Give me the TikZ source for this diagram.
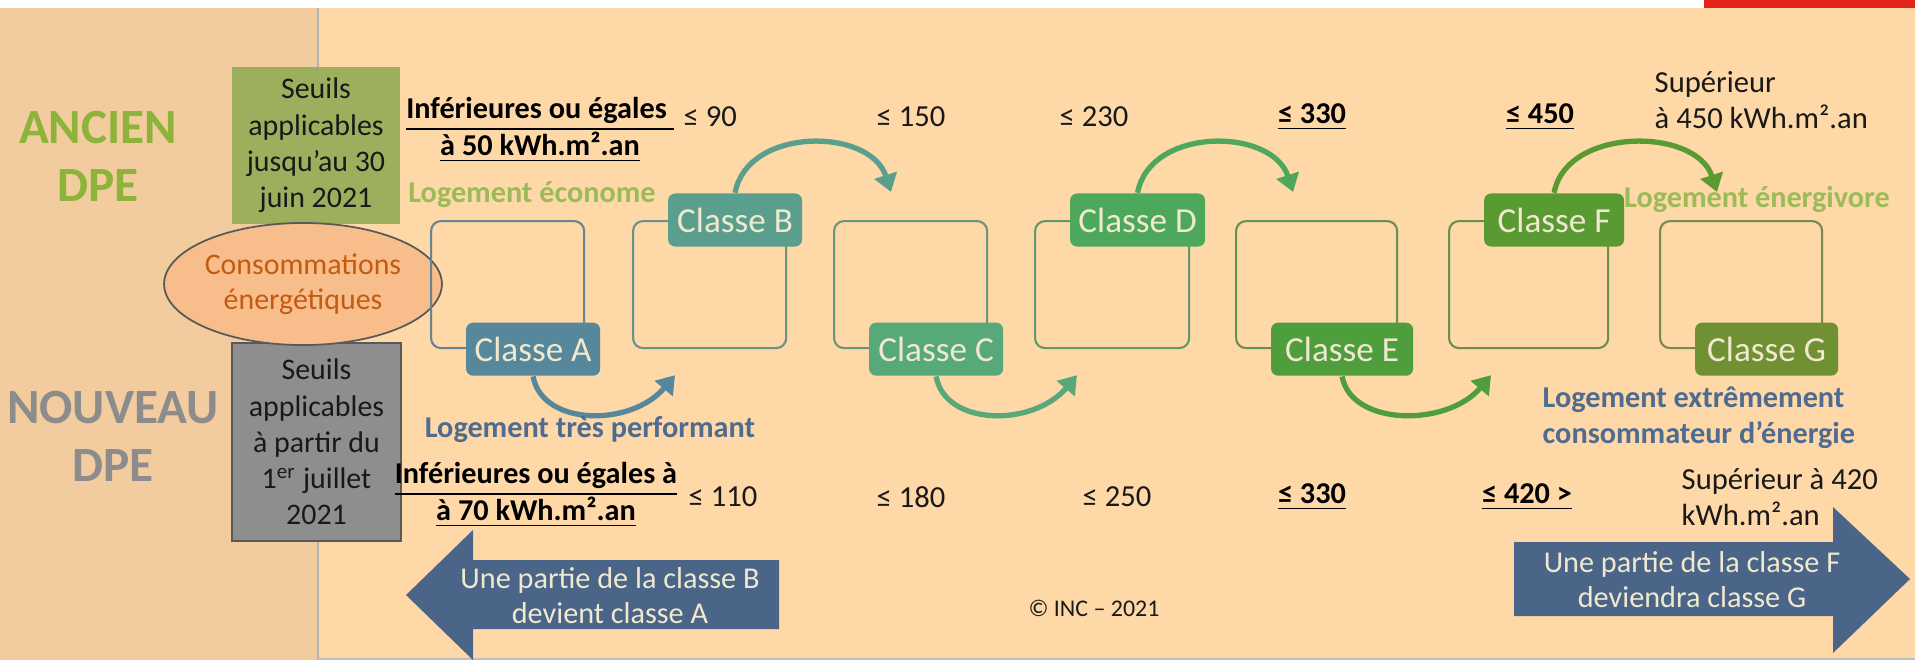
\documentclass[tikz,border=0pt]{standalone}
\usepackage{fontspec}
\setmainfont{Carlito}
\usetikzlibrary{calc,arrows.meta,shapes.geometric}

\definecolor{fond}{HTML}{FED8A7}
\definecolor{fondgauche}{HTML}{F2CC9E}
\definecolor{rouge}{HTML}{E3241A}
\definecolor{vertdpe}{HTML}{8DB33A}
\definecolor{grisdpe}{HTML}{8C8C8C}
\definecolor{vertseuil}{HTML}{9BAF5C}
\definecolor{grisseuil}{HTML}{8E8E8E}
\definecolor{orangeconso}{HTML}{F7BE8C}
\definecolor{orangetexte}{HTML}{C55A11}
\definecolor{vertclair}{HTML}{9BBB59}
\definecolor{bleulog}{HTML}{4F6B8F}
\definecolor{bleufleche}{HTML}{4A6587}
\definecolor{creme}{HTML}{F1E9CF}
% couleurs des classes
\definecolor{clsA}{HTML}{56879B}
\definecolor{clsB}{HTML}{5A9F8E}
\definecolor{clsC}{HTML}{58A97A}
\definecolor{clsD}{HTML}{4EA85C}
\definecolor{clsE}{HTML}{4E9E3E}
\definecolor{clsF}{HTML}{5A9A32}
\definecolor{clsG}{HTML}{6F9134}

\tikzset{
  txt/.style={font=\fontsize{8.7}{10.3}\selectfont, text=black!90, inner sep=0pt},
  gras/.style={font=\fontsize{8.6}{10.3}\selectfont\bfseries, inner sep=0pt},
  titre/.style={font=\fontsize{14}{16.5}\selectfont\bfseries, align=center, inner sep=0pt},
  seuil/.style={font=\fontsize{8.5}{10.3}\selectfont, align=center, text=black!90, inner sep=0pt},
  cadre/.style={draw=#1!60!gray, line width=0.6pt, rounded corners=0.1cm, minimum height=1.27cm, inner sep=0pt},
  classe/.style={fill=#1, text=creme, rounded corners=2pt, minimum height=0.53cm, inner sep=0pt, font=\fontsize{10}{12}\selectfont},
  saut/.style={draw=#1, line width=1.5pt, -{Triangle[length=5pt,width=6.5pt]}},
  fleche/.style={font=\fontsize{8.6}{10}\selectfont, text=creme, align=center, inner sep=0pt}
}

\begin{document}
\begin{tikzpicture}[x=0.01cm, y=-0.01cm]
\useasboundingbox (0,0) rectangle (1915,660);

% fonds
\fill[fondgauche] (0,8) rectangle (318,660);
\fill[fond] (318,8) rectangle (1915,660);
\draw[gray!60, line width=0.4pt] (318,8) -- (318,660);
\draw[gray!50, line width=0.4pt] (318,659) -- (1915,659);
\fill[white] (0,0) rectangle (1915,8);
\fill[rouge] (1704,0) rectangle (1915,8);

% colonne de gauche
\node[titre, text=vertdpe] (titreAncien) at (98,156) {ANCIEN\\DPE};
\node[titre, text=grisdpe] (titreNouveau) at (113,436) {NOUVEAU\\DPE};
\node[seuil, fill=vertseuil, minimum width=1.68cm, minimum height=1.57cm] (seuilAncien) at (316,145.5)
  {Seuils\\applicables\\jusqu’au 30\\juin 2021};
\node[seuil, fill=grisseuil, draw=black!65, line width=0.5pt, minimum width=1.69cm, minimum height=1.98cm] (seuilNouveau) at (316.5,442)
  {Seuils\\applicables\\à partir du\\1\textsuperscript{er} juillet\\2021};
\node[ellipse, draw=black!65, line width=0.5pt, fill=orangeconso, minimum width=2.5cm, minimum height=1.22cm,
  inner sep=0pt, align=center, text=orangetexte, font=\fontsize{8.5}{9.8}\selectfont] (conso) at (303,284)
  {Consommations\\énergétiques};

% cadres et etiquettes des classes
\foreach \n/\x/\w/\ou in {A/430/153/south, B/632/153/north, C/833/153/south, D/1034/154/north,
                          E/1235/161/south, F/1448/159/north, G/1659/162/south}{
  \pgfmathsetmacro{\wcm}{\w/100}
  \pgfmathsetmacro{\lcm}{(\w-19)/100}
  \node[cadre=cls\n, minimum width=\wcm cm, anchor=north west] (fr\n) at (\x,220) {};
  \node[classe=cls\n, minimum width=\lcm cm] (cl\n) at ($(fr\n.\ou)+(25.5,0)$) {Classe \n};
}

% fleches courbes
\foreach \a/\b in {A/B, C/D, E/F}
  \draw[saut=cls\a] (cl\a.south) .. controls +(9,50) and +(-44,52) .. ($(fr\b.south west)+(43,26)$);
\foreach \a/\b in {B/C, D/E, F/G}
  \draw[saut=cls\a] (cl\a.north) .. controls +(12,-66) and +(-21,-65) .. ($(fr\b.north west)+(58,-28)$);

% seuils ancien DPE
\node[gras, align=center] (infAncien) at (540,130)
  {\underline{Inférieures ou égales\ }\\\underline{à 50 kWh.m².an}};
\node[txt, anchor=west] (a90) at (683,117) {≤ 90};
\node[txt] (a150) at (911,117) {≤ 150};
\node[txt] (a230) at (1094,117) {≤ 230};
\node[gras] (a330) at (1312,117) {\underline{≤ 330}};
\node[gras] (a450) at (1540,117) {\underline{≤ 450}};
\node[txt, anchor=west, align=left] (supAncien) at (1654,100) {Supérieur\\à 450 kWh.m².an};

% seuils nouveau DPE
\node[gras, align=center] (infNouveau) at (536,495)
  {\underline{Inférieures ou égales à}\\\underline{à 70 kWh.m².an}};
\node[txt] (n110) at (723,497) {≤ 110};
\node[txt] (n180) at (911,497) {≤ 180};
\node[txt] (n250) at (1117,497) {≤ 250};
\node[gras] (n330) at (1312,497) {\underline{≤ 330}};
\node[gras] (n420) at (1527,497) {\underline{≤ 420 >}};
\node[txt, anchor=west, align=left] (supNouveau) at (1681,497) {Supérieur à 420\\kWh.m².an};

% qualificatifs
\node[gras, text=vertclair] (econome) at (532,195) {Logement économe};
\node[gras, text=vertclair] (energivore) at (1757,199) {Logement énergivore};
\node[gras, text=bleulog] (performant) at (590,430) {Logement très performant};
\node[gras, text=bleulog, anchor=west, align=left] (extreme) at (1542,418)
  {Logement extrêmement\\consommateur d’énergie};

% grandes fleches
\fill[bleufleche] (406,595) -- (473,530) -- (473,560) -- (779,560) -- (779,629) -- (473,629) -- (473,660) -- cycle;
\node[fleche] (partieB) at (610,596) {Une partie de la classe B\\devient classe A};
\fill[bleufleche] (1910,579) -- (1833,507) -- (1833,542) -- (1514,542) -- (1514,616) -- (1833,616) -- (1833,653) -- cycle;
\node[fleche] (partieF) at (1692,580) {Une partie de la classe F\\deviendra classe G};

\node[font=\fontsize{6.8}{8}\selectfont, text=black!90, inner sep=0pt] (copyright) at (1094,608) {© INC – 2021};
\end{tikzpicture}
\end{document}
